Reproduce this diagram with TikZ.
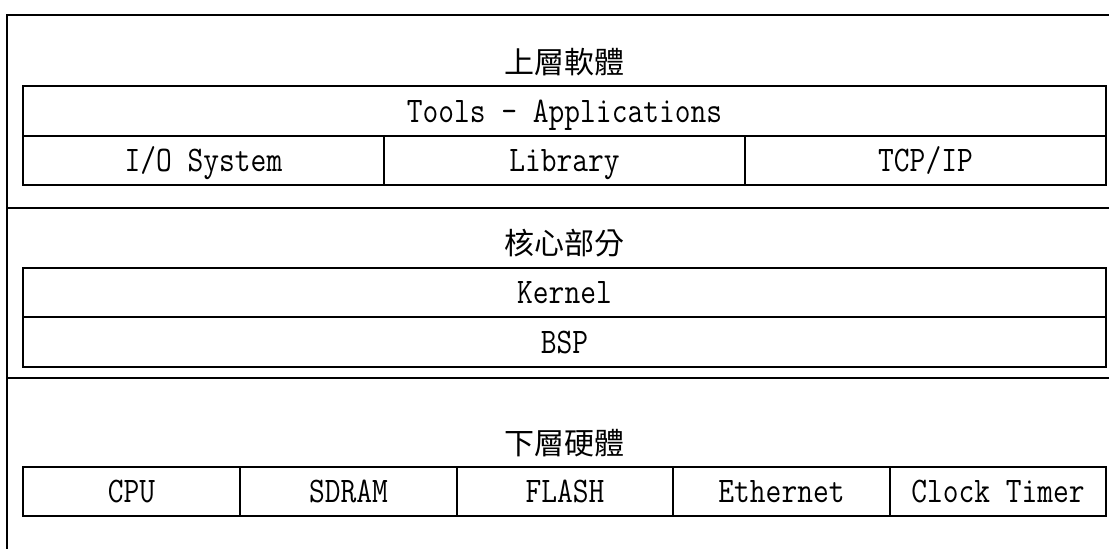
\documentclass[tikz,border=0pt]{standalone}
\usepackage{fontspec}
\newfontfamily\cjk{Noto Sans CJK TC}
\newfontfamily\latinmono[FakeStretch=0.85]{Latin Modern Mono}
\begin{document}
\begin{tikzpicture}[x=1pt,y=-1pt,
  frame/.style={line width=1.4pt},
  cell/.style={draw, line width=1.4pt, inner sep=0pt, outer sep=0pt,
    text height=22pt, text depth=0pt,
    font=\latinmono\fontsize{36}{40}\selectfont},
  layertitle/.style={inner sep=0pt, font=\cjk\fontsize{30}{34}\selectfont}]
  \useasboundingbox (0,0) rectangle (1109,549);

  % outer frame and layer separators
  \coordinate (tl) at (7,15);
  \coordinate (tr) at (1109,15);
  \coordinate (bl) at (7,549);
  \coordinate (s1l) at (7,208);
  \coordinate (s1r) at (1109,208);
  \coordinate (s2l) at (7,378);
  \coordinate (s2r) at (1109,378);
  \draw[frame] (tr) -- (tl) -- (bl);
  \draw[frame] (s1l) -- (s1r);
  \draw[frame] (s2l) -- (s2r);

  % upper software layer
  \node[layertitle] (t1) at (564.5,62) {上層軟體};
  \node[cell, minimum width=1083pt, minimum height=50pt] (tools) at (564.5,111) {Tools - Applications};
  \node[cell, minimum width=361pt, minimum height=49pt] (io)  at (203.5,160.5) {I/O System};
  \node[cell, minimum width=361pt, minimum height=49pt] (lib) at (564.5,160.5) {Library};
  \node[cell, minimum width=361pt, minimum height=49pt] (tcp) at (925.5,160.5) {TCP/IP};

  % kernel layer
  \node[layertitle] (t2) at (564.5,243) {核心部分};
  \node[cell, minimum width=1083pt, minimum height=49pt] (kernel) at (564.5,292.5) {Kernel};
  \node[cell, minimum width=1083pt, minimum height=50pt] (bsp) at (564.5,342) {BSP};

  % hardware layer
  \node[layertitle] (t3) at (564.5,443) {下層硬體};
  \node[cell, minimum width=217pt, minimum height=49pt] (cpu)   at (131.5,491.5) {CPU};
  \node[cell, minimum width=217pt, minimum height=49pt] (sdram) at (348.5,491.5) {SDRAM};
  \node[cell, minimum width=216pt, minimum height=49pt] (flash) at (565,491.5) {FLASH};
  \node[cell, minimum width=217pt, minimum height=49pt] (eth)   at (781.5,491.5) {Ethernet};
  \node[cell, minimum width=216pt, minimum height=49pt] (clk)   at (998,491.5) {Clock Timer};
\end{tikzpicture}
\end{document}
